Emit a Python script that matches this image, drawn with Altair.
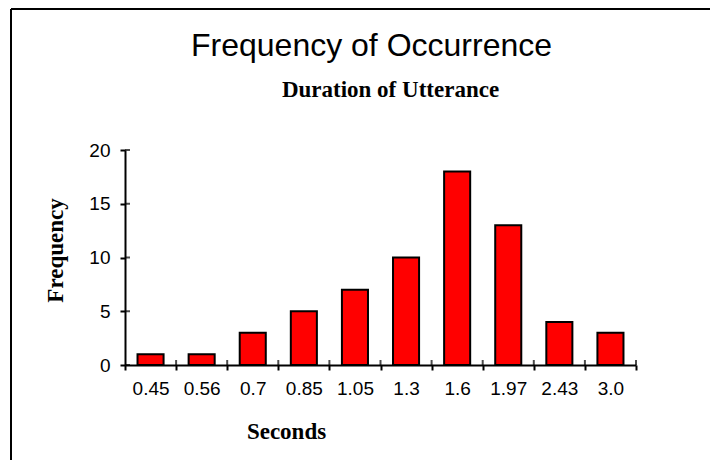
import altair as alt
import pandas as pd

# ---- data ----
seconds = ["0.45", "0.56", "0.7", "0.85", "1.05", "1.3", "1.6", "1.97", "2.43", "3.0"]
frequency = [1, 1, 3, 5, 7, 10, 18, 13, 4, 3]
y_ticks = [0, 5, 10, 15, 20]
title_text = ["Frequency of Occurrence"]
subtitle_text = ["Duration of Utterance"]

W, H = 511, 215

df = pd.DataFrame({"Seconds": seconds, "Frequency": frequency})
ticks_df = pd.DataFrame({"Frequency": y_ticks})

x_scale = alt.Scale(paddingInner=0, paddingOuter=0)
y_scale = alt.Scale(domain=[0, 20])

x_axis = alt.Axis(
    title="Seconds", labelAngle=0, labelFont="Liberation Sans", labelFontSize=19,
    labelColor="black", labelPadding=9, tickBand="extent", tickSize=5, tickWidth=2,
    tickColor="black", domainColor="black", domainWidth=2,
    titleFont="Liberation Serif", titleFontWeight="bold", titleFontSize=23,
    titleColor="black", titleX=161, titleY=73, titleBaseline="alphabetic",
    titleAlign="center", grid=False,
)
y_axis = alt.Axis(
    title="Frequency", values=y_ticks, labelFont="Liberation Sans", labelFontSize=19,
    labelColor="black", labelPadding=10, tickSize=5, tickWidth=2, tickColor="black",
    domainColor="black", domainWidth=2, titleFont="Liberation Serif",
    titleFontWeight="bold", titleFontSize=23, titleColor="black", titleAngle=270,
    titleX=-70, titleY=100, titleAlign="center", titleBaseline="middle", grid=False,
)

bars = alt.Chart(df).mark_bar(
    color="#FF0000", stroke="black", strokeWidth=2, width=alt.RelativeBandSize(0.51)
).encode(
    x=alt.X("Seconds:N", sort=seconds, scale=x_scale, axis=x_axis),
    y=alt.Y("Frequency:Q", scale=y_scale, axis=y_axis),
)

x_inner_ticks = alt.Chart(df).mark_tick(
    orient="vertical", size=5, thickness=2, color="black"
).encode(
    x=alt.X("Seconds:N", sort=seconds, bandPosition=1),
    y=alt.value(H - 2.5),
)

y_inner_ticks = alt.Chart(ticks_df).mark_tick(
    orient="horizontal", size=5, thickness=2, color="black"
).encode(
    y=alt.Y("Frequency:Q"),
    x=alt.value(2.5),
)

border_v = alt.Chart(pd.DataFrame({"a": [0]})).mark_rule(color="black", strokeWidth=2).encode(
    x=alt.value(-114), y=alt.value(-141), y2=alt.value(400)
)
border_h = alt.Chart(pd.DataFrame({"a": [0]})).mark_rule(color="black", strokeWidth=2).encode(
    x=alt.value(-114), x2=alt.value(700), y=alt.value(-141)
)

title = alt.Chart(pd.DataFrame({"t": title_text})).mark_text(
    font="Liberation Sans", fontSize=32, color="black", align="center", baseline="alphabetic"
).encode(text="t:N", x=alt.value(246.5), y=alt.value(-94))

subtitle = alt.Chart(pd.DataFrame({"t": subtitle_text})).mark_text(
    font="Liberation Serif", fontSize=23, fontWeight="bold", color="black",
    align="center", baseline="alphabetic"
).encode(text="t:N", x=alt.value(265.5), y=alt.value(-53))

chart = alt.layer(
    bars, x_inner_ticks, y_inner_ticks, border_v, border_h, title, subtitle
).properties(
    width=W, height=H,
    autosize=alt.AutoSizeParams(type="none"),
    padding={"left": 117, "top": 142, "right": 74, "bottom": 95},
    background="white",
).configure_view(stroke=None)

chart.save("out.html", embed_options={"renderer": "svg", "actions": False})
